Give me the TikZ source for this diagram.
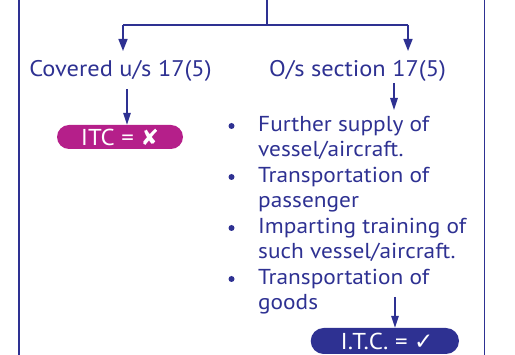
\documentclass[tikz,border=0pt]{standalone}
\usepackage{fontspec}
\setmainfont{PT Sans}[FakeStretch=1.08]
\newfontfamily\symfont{DejaVu Sans}
\usetikzlibrary{arrows.meta}
\definecolor{navy}{HTML}{2E3192}
\definecolor{mag}{HTML}{B51F8A}
\tikzset{
  line/.style={draw=navy, line width=1.6pt},
  arr/.style={line, -{Triangle[length=12pt,width=9pt]}},
  sarr/.style={draw=navy, line width=1.4pt, -{Triangle[length=12pt,width=7.5pt]}},
  lbl/.style={text=navy, font=\fontsize{22.6}{25}\selectfont, inner sep=0pt, anchor=base},
  itemtxt/.style={text=navy, font=\fontsize{21.6}{25}\selectfont, inner sep=0pt, anchor=base west},
  bul/.style={circle, fill=navy, inner sep=0pt, minimum size=6pt},
  pill/.style={rounded corners=12pt, text=white, font=\fontsize{23}{26}\selectfont, inner sep=0pt}
}
\begin{document}
\begin{tikzpicture}[x=1pt,y=-1pt]
\useasboundingbox (0,0) rectangle (515,355);
% frame sides
\coordinate (fl1) at (19,0); \coordinate (fl2) at (19,355);
\coordinate (fr1) at (484.5,0); \coordinate (fr2) at (484.5,355);
\draw[line] (fl1) -- (fl2);
\draw[line] (fr1) -- (fr2);
% top split
\coordinate (top) at (267,0);
\coordinate (mid) at (267,25);
\coordinate (lc) at (123,25);
\coordinate (rc) at (408,25);
\coordinate (la) at (123,51);
\coordinate (ra) at (408,51);
\draw[line] (top) -- (mid);
\draw[line] (lc) -- (rc);
\draw[arr] (lc) -- (la);
\draw[arr] (rc) -- (ra);
% labels
\node[lbl] (cov) at (120.5,76.7) {Covered u/s 17(5)};
\node[lbl] (os) at (357.5,76.7) {O/s section 17(5)};
% left pill
\fill[mag, rounded corners=12pt] (57,125) rectangle (183,149);
\node[pill, minimum width=126pt, minimum height=24pt] (itcno) at (120,137) {ITC = {\symfont\fontsize{22}{24}\selectfont ✘}};
\coordinate (l1) at (127,89);
\draw[sarr] (l1) -- (itcno.north -| l1);
% right list
\coordinate (r1) at (394,83);
\coordinate (r2) at (394,110);
\draw[sarr] (r1) -- (r2);
\node[bul] (b1) at (231.5,126) {};
\node[bul] (b2) at (231.5,177) {};
\node[bul] (b3) at (231.5,228) {};
\node[bul] (b4) at (231.5,279) {};
\node[itemtxt] (t1a) at (258,131.7) {Further supply of};
\node[itemtxt] (t1b) at (258,156.9) {vessel/aircraft.};
\node[itemtxt] (t2a) at (258,182.4) {Transportation of};
\node[itemtxt] (t2b) at (258,208) {passenger};
\node[itemtxt] (t3a) at (258,233.5) {Imparting training of};
\node[itemtxt] (t3b) at (258,259) {such vessel/aircraft.};
\node[itemtxt] (t4a) at (258,285) {Transportation of};
\node[itemtxt] (t4b) at (258,310) {goods};
% right pill
\fill[navy, rounded corners=13pt] (310.7,328) rectangle (459,354);
\node[pill, minimum width=148pt, minimum height=26pt] (itcyes) at (387,341) {I.T.C. = {\symfont\fontsize{23}{26}\selectfont ✓}};
\coordinate (r3) at (395,297);
\draw[sarr] (r3) -- (itcyes.north -| r3);
\end{tikzpicture}
\end{document}
